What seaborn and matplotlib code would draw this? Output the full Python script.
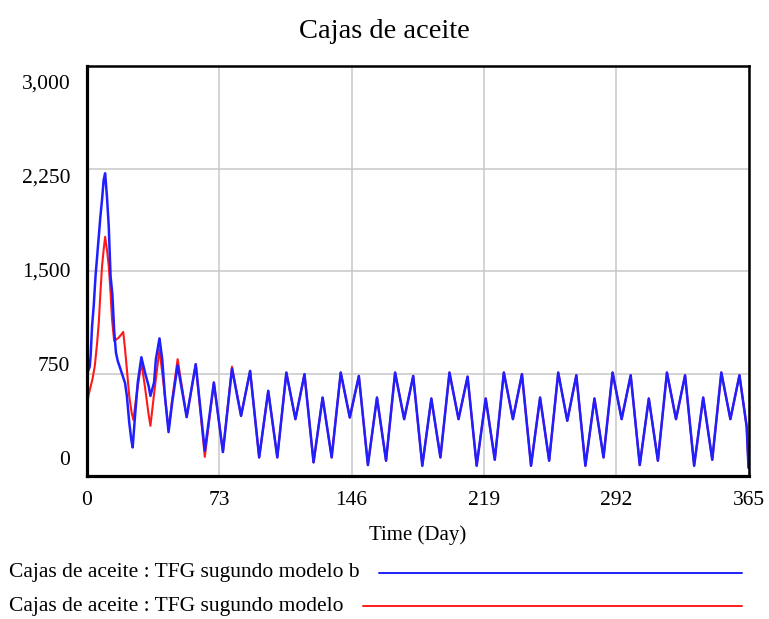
import matplotlib
matplotlib.use("Agg")
import matplotlib.pyplot as plt
from matplotlib.lines import Line2D
from matplotlib.transforms import blended_transform_factory
import pandas as pd
import seaborn as sns

# ---- data -------------------------------------------------------------
title = "Cajas de aceite"
x_label = "Time (Day)"
series_b = "Cajas de aceite : TFG sugundo modelo b"
series_a = "Cajas de aceite : TFG sugundo modelo"

x_ticks = [0, 73, 146, 219, 292, 365]
y_ticks = [0, 750, 1500, 2250, 3000]
y_tick_labels = ["0", "750", "1,500", "2,250", "3,000"]

# start-up transient, model b
blue_early_day = [0, 0.4, 1.5, 2, 2.8, 3.7, 4.7, 5.6, 6.5, 7.4, 8.3, 9.2, 10,
                  11, 12, 13, 14, 15, 16, 17, 18.5, 20, 21, 22, 23.3, 24.4,
                  25.2, 26.5, 28, 30, 32, 34, 35, 37, 38, 40, 41.5, 43, 45, 47]
blue_early = [470, 760, 800, 880, 1097, 1243, 1462, 1608, 1754, 1900, 2022,
              2168, 2215, 2046, 1827, 1462, 1330, 1060, 900, 840, 781, 720,
              680, 586, 392, 270, 209, 440, 684, 869, 757, 659, 586, 684, 854,
              1007, 854, 586, 321, 538]

# start-up transient, base model
red_early_day = [0, 1, 3, 4.3, 5.6, 6.5, 7.4, 8.3, 9.2, 10, 11, 12, 12.9,
                 13.8, 15, 17.5, 20, 21, 22, 23.3, 24.6, 25.6, 27, 28.5, 30,
                 32, 34, 35, 37, 40, 42, 45, 47]
red_early = [526, 600, 708, 805, 976, 1122, 1341, 1535, 1657, 1750, 1657,
             1535, 1365, 1146, 988, 1012, 1054, 927, 781, 586, 465, 410, 560,
             700, 830, 650, 450, 367, 600, 927, 700, 340, 560]

# settling period (peaks / troughs every 5 days)
mid_day = [50, 55, 60, 65, 70, 75, 80, 85, 90, 95]
blue_mid = [810, 431, 818, 185, 684, 175, 785, 440, 769, 136]
red_mid = [855, 431, 818, 140, 684, 175, 800, 440, 769, 136]

# steady cycle, identical in both runs
cycle_day = [100, 105, 110, 115, 120, 125, 130, 135, 140, 145, 150, 155, 160,
             165, 170, 175, 180, 185, 190, 195, 200, 205, 210, 215, 220, 225,
             230, 235, 240, 245, 250, 255, 260, 265, 270, 275, 280, 285, 290,
             295, 300, 305, 310, 315, 320, 325, 330, 335, 340, 345, 350, 355,
             360, 364, 365]
cycle_val = [623, 136, 757, 416, 745, 100, 574, 136, 757, 428, 732, 80, 574,
             112, 757, 416, 732, 75, 567, 136, 757, 416, 727, 75, 567, 119,
             757, 416, 745, 75, 574, 112, 757, 404, 737, 75, 567, 136, 757,
             416, 737, 80, 567, 112, 757, 416, 737, 75, 574, 119, 757, 416,
             737, 360, 60]

blue_df = pd.DataFrame({"day": blue_early_day + mid_day + cycle_day,
                        "value": blue_early + blue_mid + cycle_val})
red_df = pd.DataFrame({"day": red_early_day + mid_day + cycle_day,
                       "value": red_early + red_mid + cycle_val})

BLUE = "#1f1fff"
RED = "#ff1a1a"

# ---- style ------------------------------------------------------------
sns.set_style("white")
plt.rcParams["font.family"] = ["Liberation Serif", "DejaVu Serif"]
plt.rcParams["text.color"] = "black"
plt.rcParams["axes.labelcolor"] = "black"
plt.rcParams["xtick.color"] = "black"
plt.rcParams["ytick.color"] = "black"

W, H = 769, 619
fig = plt.figure(figsize=(W / 100, H / 100), dpi=100)
ax = fig.add_axes([87 / W, 1 - 476 / H, 661.5 / W, 410 / H])

sns.lineplot(data=red_df, x="day", y="value", ax=ax, color=RED, lw=1.5,
             estimator=None, sort=False, legend=False)
sns.lineplot(data=blue_df, x="day", y="value", ax=ax, color=BLUE, lw=1.8,
             estimator=None, sort=False, legend=False)

ax.set_xlim(0, 365)
ax.set_ylim(0, 3000)
ax.set_xticks(x_ticks)
ax.set_xticklabels([str(t) for t in x_ticks], fontsize=15.5)
ax.set_yticks(y_ticks)
ax.set_yticklabels([])
ax.tick_params(axis="both", length=0)
ax.tick_params(axis="x", pad=11)
ax.grid(True, color="#c8c8c8", lw=1.1)
ax.set_axisbelow(True)
ax.set_xlabel(x_label, fontsize=15, labelpad=11)
ax.set_ylabel("")

for side, lw in (("left", 2.3), ("bottom", 2.3), ("top", 1.8), ("right", 1.8)):
    ax.spines[side].set_visible(True)
    ax.spines[side].set_color("black")
    ax.spines[side].set_linewidth(lw)

# value labels on the left, spread evenly along the frame
lab_lo, lab_hi = 0.038, 0.957
trans = blended_transform_factory(ax.transAxes, ax.transAxes)
for v, s in zip(y_ticks, y_tick_labels):
    frac = lab_lo + (lab_hi - lab_lo) * v / 3000
    ax.text(-0.025, frac, s, transform=trans, ha="right", va="center",
            fontsize=15.5)

fig.text(0.5, 1 - 31 / H, title, ha="center", va="center", fontsize=20.5)

# legend rows below the chart
fig.canvas.draw()
renderer = fig.canvas.get_renderer()
for label, color, ypix in ((series_b, BLUE, 573), (series_a, RED, 606)):
    t = fig.text(9 / W, 1 - ypix / H, label, ha="left", va="center",
                 fontsize=15.5)
    bb = t.get_window_extent(renderer)
    x0 = (bb.x1 + 19) / W
    fig.add_artist(Line2D([x0, 742 / W], [1 - ypix / H, 1 - ypix / H],
                          transform=fig.transFigure, color=color, lw=1.4))

fig.savefig("out.png", dpi=100)
